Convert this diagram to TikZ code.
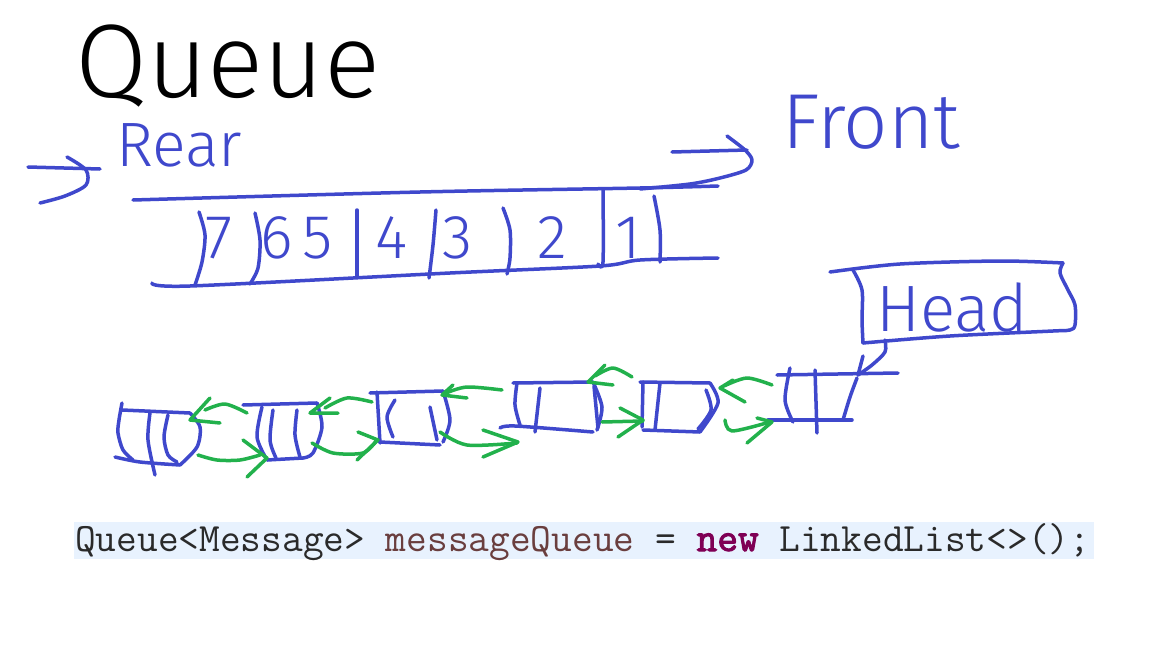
\documentclass[tikz,border=0pt]{standalone}
\usepackage{fontspec}
\IfFontExistsTF{Fira Sans Light}{\newfontfamily\hand{Fira Sans Light}}{\newfontfamily\hand{Fira Sans}}
\newfontfamily\codefont{Latin Modern Mono}
\newfontfamily\codebold{Latin Modern Mono}[FakeBold=2.5]
\definecolor{inkblue}{HTML}{3F48CC}
\definecolor{inkgreen}{HTML}{22B14C}
\definecolor{codebg}{HTML}{E8F2FE}
\definecolor{codevar}{HTML}{6A3E3E}
\definecolor{codekw}{HTML}{7F0055}
\definecolor{codetxt}{HTML}{2A2A2A}
\tikzset{
  ink/.style={draw=inkblue, line width=3.5pt, line cap=round, line join=round},
  grn/.style={draw=inkgreen, line width=3.5pt, line cap=round, line join=round},
  handtext/.style={inner sep=0pt, text=inkblue},
}
\begin{document}
\begin{tikzpicture}[x=1pt,y=-1pt]
\useasboundingbox[fill=white] (0,0) rectangle (1152,648);

% title
\node[inner sep=0pt, anchor=base west] (title) at (75,97) {\resizebox{305pt}{!}{\hand\fontsize{100}{110}\selectfont Queue}};

% rear / front labels
\node[handtext, anchor=base west] (rear) at (116,166) {\resizebox{126pt}{!}{\hand\fontsize{60}{70}\selectfont Rear}};
\node[handtext, anchor=base west] (front) at (782,148) {\resizebox{178pt}{!}{\hand\fontsize{70}{76}\selectfont Front}};

% rear arrow
\coordinate (ra1) at (28,167);
\coordinate (ra2) at (100,169);
\draw[ink] (ra1) -- (ra2);
\draw[ink] plot[smooth] coordinates {(67,157) (86,170) (86,185) (65,196) (40,203)};

% front arrow
\coordinate (fa1) at (672,152);
\coordinate (fa2) at (747,150);
\draw[ink] (fa1) -- (fa2);
\draw[ink] plot[smooth] coordinates {(727,136) (745,150) (752,160) (746,170) (720,178) (690,184) (640,189)};

% queue box
\draw[ink] plot[smooth] coordinates {(133,200) (420,192) (640,188) (718,186)};
\draw[ink] plot[smooth] coordinates {(152,283) (190,286) (450,273) (600,266) (640,260) (718,258)};
\draw[ink] plot[smooth] coordinates {(199,212) (205,235) (202,262) (195,285)};
\draw[ink] plot[smooth] coordinates {(255,213) (260,240) (258,268) (250,284)};
\draw[ink] (357,210) -- (357,276);
\draw[ink] plot[smooth] coordinates {(436,210) (433,245) (429,278)};
\draw[ink] plot[smooth] coordinates {(503,208) (510,230) (510,258) (507,274)};
\draw[ink] plot[smooth] coordinates {(603,190) (603,262) (598,264)};
\draw[ink] plot[smooth] coordinates {(654,196) (660,230) (660,262)};
\foreach \d/\x/\n in {7/219/q7,6/277/q6,5/318/q5,4/392/q4,3/458/q3,2/552/q2,1/628/q1}{
  \node[handtext, font=\hand\fontsize{62}{64}\selectfont] (\n) at (\x,238) {\d};
}

% head box
\draw[ink] plot[smooth] coordinates {(830,272) (900,264) (1000,261) (1063,263)};
\draw[ink] plot[smooth] coordinates {(1063,263) (1060,273) (1068,290) (1075,305) (1075,325) (1070,330) (1053,331) (950,336) (863,343)};
\draw[ink] plot[smooth] coordinates {(853,270) (862,290) (862,320) (863,343)};
\node[handtext, anchor=base west] (head) at (876,331) {\resizebox{152pt}{!}{\hand\fontsize{66}{70}\selectfont Head}};
\draw[ink] plot[smooth] coordinates {(885,340) (885,352) (872,365) (858,375)};
\draw[ink] (863,356) -- (858,375);

% linked list nodes
% node 1
\draw[ink] (122,410) -- (190,413);
\draw[ink] plot[smooth] coordinates {(122,403) (119,420) (118,433) (123,450) (133,460)};
\draw[ink] plot[smooth] coordinates {(115,457) (140,462) (180,465)};
\draw[ink] plot[smooth] coordinates {(190,413) (200,427) (197,447) (180,465)};
\draw[ink] plot[smooth] coordinates {(150,413) (148,440) (155,475)};
\draw[ink] plot[smooth] coordinates {(168,415) (164,437) (168,455) (177,462)};
% node 2
\draw[ink] (243,405) -- (317,403);
\draw[ink] plot[smooth] coordinates {(262,407) (257,437) (267,460)};
\draw[ink] (267,460) -- (303,458);
\draw[ink] plot[smooth] coordinates {(317,403) (322,427) (313,453) (303,458)};
\draw[ink] plot[smooth] coordinates {(273,410) (270,440) (276,458)};
\draw[ink] plot[smooth] coordinates {(297,410) (295,435) (300,457)};
% node 3
\draw[ink] (370,393) -- (443,391);
\draw[ink] (377,392) -- (380,443);
\draw[ink] plot[smooth] coordinates {(395,400) (387,417) (393,437)};
\draw[ink] (430,407) -- (437,440);
\draw[ink] plot[smooth] coordinates {(443,391) (450,420) (443,442)};
\draw[ink] (380,442) -- (440,445);
% node 4
\draw[ink] (513,383) -- (593,382);
\draw[ink] plot[smooth] coordinates {(517,383) (515,405) (520,425)};
\draw[ink] plot[smooth] coordinates {(500,428) (515,426) (593,432)};
\draw[ink] plot[smooth] coordinates {(593,382) (602,407) (597,430)};
\draw[ink] (594,386) -- (598,428);
\draw[ink] (540,388) -- (535,432);
% node 5
\draw[ink] (640,382) -- (710,383);
\draw[ink] (643,382) -- (642,427);
\draw[ink] (660,383) -- (655,430);
\draw[ink] plot[smooth] coordinates {(710,383) (718,403) (700,432)};
\draw[ink] plot[smooth] coordinates {(706,390) (711,410) (698,429)};
\draw[ink] (643,430) -- (700,432);
% node 6
\draw[ink] (777,375) -- (898,373);
\draw[ink] plot[smooth] coordinates {(790,368) (785,400) (793,422)};
\draw[ink] (815,370) -- (817,433);
\draw[ink] plot[smooth] coordinates {(857,378) (850,397) (843,420)};
\draw[ink] (768,420) -- (852,420);

% green arrows
\draw[grn] plot[smooth] coordinates {(247,413) (225,404) (205,410)};
\draw[grn] plot coordinates {(210,398) (190,420) (220,423)};
\draw[grn] plot[smooth] coordinates {(198,455) (217,460) (240,460) (260,455)};
\draw[grn] plot coordinates {(243,440) (267,458) (247,477)};

\draw[grn] plot[smooth] coordinates {(372,402) (347,398) (325,408)};
\draw[grn] plot coordinates {(330,398) (310,413) (338,413)};
\draw[grn] plot[smooth] coordinates {(312,443) (333,453) (363,453) (376,441)};
\draw[grn] plot coordinates {(358,432) (378,440) (357,460)};

\draw[grn] plot[smooth] coordinates {(502,390) (467,387) (446,393)};
\draw[grn] plot coordinates {(453,385) (442,395) (467,398)};
\draw[grn] plot[smooth] coordinates {(440,432) (467,445) (517,443)};
\draw[grn] plot coordinates {(483,430) (518,442) (483,457)};

\draw[grn] plot[smooth] coordinates {(632,377) (613,368) (595,376)};
\draw[grn] plot coordinates {(605,365) (588,382) (613,385)};
\draw[grn] (602,422) -- (643,421);
\draw[grn] plot coordinates {(620,408) (643,420) (618,437)};

\draw[grn] plot[smooth] coordinates {(772,385) (747,378) (724,386)};
\draw[grn] plot coordinates {(733,380) (720,388) (745,402)};
\draw[grn] plot[smooth] coordinates {(725,420) (732,431) (770,422)};
\draw[grn] plot coordinates {(757,418) (772,422) (747,443)};

% code line
\fill[codebg] (74,522) rectangle (1094,559);
\node[inner sep=0pt, anchor=base west, text=codetxt] (code) at (75,551)
  {\resizebox{1015pt}{!}{\codefont\fontsize{39.4}{44}\selectfont Queue<Message> \textcolor{codevar}{messageQueue} = \textcolor{codekw}{\codebold new} LinkedList<>();}};
\end{tikzpicture}
\end{document}
